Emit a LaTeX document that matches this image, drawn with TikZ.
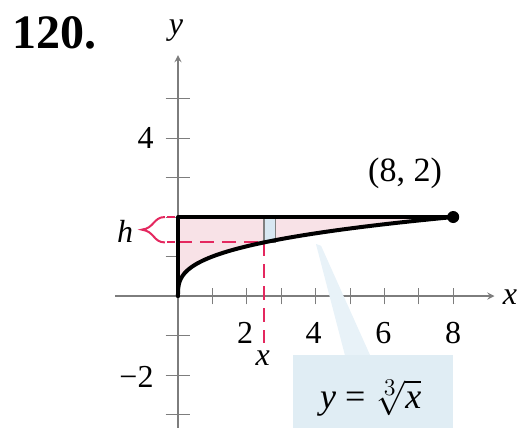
\documentclass[tikz,border=0pt]{standalone}
\usepackage{fontspec}
\setmainfont{Liberation Serif}
\usepackage{xcolor}
\usepackage{tikz}
\usetikzlibrary{arrows}
\usetikzlibrary{positioning}
\definecolor{hred}{RGB}{228,40,95}
\definecolor{regionpink}{RGB}{248,226,231}
\definecolor{stripblue}{RGB}{216,232,242}
\definecolor{boxblue}{RGB}{224,237,244}
\definecolor{calloutblue}{RGB}{232,242,248}
\definecolor{axisgray}{RGB}{125,125,125}
\tikzstyle{axis} = [axisgray, line width=0.6pt, -stealth]
\tikzstyle{tick} = [axisgray, line width=0.5pt]
\tikzstyle{num} = [font=\fontsize{16}{18}\selectfont, inner sep=0pt]
\tikzstyle{bound} = [black, line width=2pt, line cap=round, line join=round]
\tikzstyle{guide} = [hred, line width=1pt, dash pattern=on 7pt off 4pt]
\begin{document}
\begin{tikzpicture}[x=17.2pt, y=19.75pt]
    \useasboundingbox (-5.174,-3.316) rectangle (10.029,7.494);
    % formula box
    \fill[boxblue] (3.34,-1.49) rectangle (8.0,-3.4);
    \node(formula)[num, font=\fontsize{18}{20}\selectfont] at (5.6,-2.58) {\textit{y} = $\sqrt[\scriptstyle 3]{\textit{x}}$};
    %
    \coordinate(xstart) at (-1.83,0);
    \coordinate(xend) at (9.2,0);
    \coordinate(ystart) at (0,-3.4);
    \coordinate(yend) at (0,6.1);
    \draw[axis] (xstart) -- (xend);
    \draw[axis] (ystart) -- (yend);
    \draw[tick] (1,-0.21) -- (1,0.21) (2,-0.21) -- (2,0.21) (3,-0.21) -- (3,0.21) (4,-0.21) -- (4,0.21)
                (5,-0.21) -- (5,0.21) (6,-0.21) -- (6,0.21) (7,-0.21) -- (7,0.21) (8,-0.21) -- (8,0.21);
    \draw[tick] (-0.36,1) -- (0.36,1) (-0.36,2) -- (0.36,2) (-0.36,3) -- (0.36,3) (-0.36,4) -- (0.36,4)
                (-0.36,5) -- (0.36,5) (-0.36,-1) -- (0.36,-1) (-0.36,-2) -- (0.36,-2) (-0.36,-3) -- (0.36,-3);
    % callout band
    \fill[calloutblue] (4.01,1.32) -- (4.16,1.27) -- (5.58,-1.49) -- (4.85,-1.49) -- cycle;
    % region between the curve and y = 2
    \fill[regionpink] (0,0) -- plot[domain=0:2, samples=80] ({\x*\x*\x},{\x}) -- (0,2) -- cycle;
    \filldraw[fill=stripblue, draw=gray, line width=0.6pt] (2.5,1.357) rectangle (2.84,2);
    \draw[guide] (0,1.357) -- (2.5,1.357);
    \draw[guide] (2.5,1.357) -- (2.5,-1.2);
    \draw[bound] (0,0) -- plot[domain=0:2, samples=80] ({\x*\x*\x},{\x});
    \draw[bound] (0,0) -- (0,2) -- (8,2);
    \node(peak)[circle, fill=black, inner sep=0pt, minimum size=6pt] at (8,2) {};
    % brace for h
    \draw[hred, line width=1pt] (-0.38,2) .. controls (-0.72,2) and (-0.68,1.72) .. (-1.05,1.68)
        .. controls (-0.68,1.64) and (-0.72,1.357) .. (-0.38,1.357);
    \draw[hred, line width=1pt] (-0.32,2) -- (-0.08,2) (-0.32,1.357) -- (-0.08,1.357);
    \node(hlab)[num] at (-1.54,1.63) {\textit{h}};
    % labels
    \node(title)[font=\fontsize{24}{28}\selectfont\bfseries, inner sep=0pt] at (-3.6,6.65) {120.};
    \node(ylab)[num] at (-0.06,6.71) {\textit{y}};
    \node(xlab)[num] at (9.65,-0.03) {\textit{x}};
    \node(yfour)[num, anchor=east] at (-0.7,4) {4};
    \node(ymtwo)[num, anchor=east] at (-0.7,-2.05) {−2};
    \node(xtwo)[num] at (1.95,-0.94) {2};
    \node(xfour)[num] at (3.94,-0.94) {4};
    \node(xsix)[num] at (5.97,-0.94) {6};
    \node(xeight)[num] at (8.0,-0.94) {8};
    \node(xmark)[num] at (2.46,-1.57) {\textit{x}};
    \node(ptlab)[num, font=\fontsize{17}{19}\selectfont] at (6.6,3.1) {(8, 2)};
\end{tikzpicture}
\end{document}
